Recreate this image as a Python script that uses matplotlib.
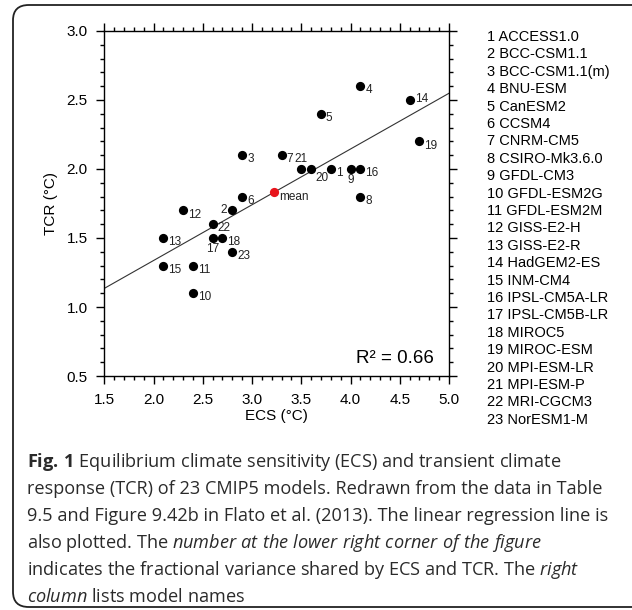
import numpy as np
import matplotlib
matplotlib.use("Agg")
import matplotlib.pyplot as plt
from matplotlib.patches import FancyBboxPatch
from matplotlib.ticker import MultipleLocator

plt.rcParams['font.family'] = ['Liberation Sans', 'DejaVu Sans']
plt.rcParams['mathtext.fontset'] = 'custom'
plt.rcParams['mathtext.rm'] = 'Open Sans'
plt.rcParams['mathtext.it'] = 'Open Sans:italic'
plt.rcParams['mathtext.bf'] = 'Open Sans:bold'

# CMIP5 models, ECS and TCR (degC)
models = ['ACCESS1.0', 'BCC-CSM1.1', 'BCC-CSM1.1(m)', 'BNU-ESM', 'CanESM2', 'CCSM4',
          'CNRM-CM5', 'CSIRO-Mk3.6.0', 'GFDL-CM3', 'GFDL-ESM2G', 'GFDL-ESM2M',
          'GISS-E2-H', 'GISS-E2-R', 'HadGEM2-ES', 'INM-CM4', 'IPSL-CM5A-LR',
          'IPSL-CM5B-LR', 'MIROC5', 'MIROC-ESM', 'MPI-ESM-LR', 'MPI-ESM-P',
          'MRI-CGCM3', 'NorESM1-M']
ecs = [3.8, 2.8, 2.9, 4.1, 3.7, 2.9, 3.3, 4.1, 4.0, 2.4, 2.4, 2.3, 2.1, 4.6,
       2.1, 4.1, 2.6, 2.7, 4.7, 3.6, 3.5, 2.6, 2.8]
tcr = [2.0, 1.7, 2.1, 2.6, 2.4, 1.8, 2.1, 1.8, 2.0, 1.1, 1.3, 1.7, 1.5, 2.5,
       1.3, 2.0, 1.5, 1.5, 2.2, 2.0, 2.0, 1.6, 1.4]
r2_text = 'R² = 0.66'

x = np.array(ecs)
y = np.array(tcr)

fig = plt.figure(figsize=(6.32, 6.10), dpi=100)
ax = fig.add_axes([0.165, 0.3836, 0.5455, 0.5656])

# regression line
slope, icpt = np.polyfit(x, y, 1)
xl = np.array([1.5, 5.0])
ax.plot(xl, slope * xl + icpt, color='#333333', lw=0.8, zorder=1)

ax.scatter(x, y, s=44, color='black', zorder=3, linewidths=0)
ax.scatter([x.mean()], [y.mean()], s=44, color='#e8141c', zorder=3, linewidths=0)

# label placement (offsets in points)
special = {
    2: ((-3.6, 0), 'right', 'center'),
    9: ((0, -3.5), 'center', 'top'),
    14: ((3.6, 0.5), 'left', 'center'),
    17: ((0, -3.5), 'center', 'top'),
    20: ((3.0, -2.5), 'left', 'top'),
    21: ((0, 3.0), 'center', 'bottom'),
}
for i in range(len(models)):
    n = i + 1
    off, ha, va = special.get(n, ((3.6, -3.0), 'left', 'center'))
    ax.annotate(str(n), (x[i], y[i]), xytext=off, textcoords='offset points',
                ha=ha, va=va, fontsize=8.5, color='#222222')
ax.annotate('mean', (x.mean(), y.mean()), xytext=(3.6, -3.5), textcoords='offset points',
            ha='left', va='center', fontsize=8.5, color='#222222')

ax.text(0.955, 0.05, r2_text, transform=ax.transAxes, ha='right', va='center',
        fontsize=13.5)

ax.set_xlim(1.5, 5.0)
ax.set_ylim(0.5, 3.0)
ax.xaxis.set_major_locator(MultipleLocator(0.5))
ax.yaxis.set_major_locator(MultipleLocator(0.5))
ax.xaxis.set_minor_locator(MultipleLocator(0.1))
ax.yaxis.set_minor_locator(MultipleLocator(0.1))
ax.xaxis.set_major_formatter(plt.FormatStrFormatter('%.1f'))
ax.yaxis.set_major_formatter(plt.FormatStrFormatter('%.1f'))
ax.tick_params(which='both', direction='out', top=True, right=True, width=1.0)
ax.tick_params(which='major', length=6, pad=6, labelsize=11)
ax.tick_params(which='minor', length=3)
for sp in ax.spines.values():
    sp.set_linewidth(1.0)

ax.set_xlabel('ECS (°C)', fontsize=11, labelpad=2)
ax.set_ylabel('TCR (°C)', fontsize=11, labelpad=6)

# model list on the right
for i, name in enumerate(models):
    fig.text(487 / 632, 1 - (37 + i * 17.4) / 610, f'{i + 1} {name}',
             fontsize=10.5, ha='left', va='center')

# caption
caption = [
    r'$\mathbf{Fig.\,1}$ Equilibrium climate sensitivity (ECS) and transient climate',
    'response (TCR) of 23 CMIP5 models. Redrawn from the data in Table',
    '9.5 and Figure 9.42b in Flato et al. (2013). The linear regression line is',
    r'also plotted. The $\mathit{number\ at\ the\ lower\ right\ corner\ of\ the\ figure}$',
    r'indicates the fractional variance shared by ECS and TCR. The $\mathit{right}$',
    r'$\mathit{column}$ lists model names',
]
for i, line in enumerate(caption):
    fig.text(27 / 632, 1 - (462 + i * 27) / 610, line, fontsize=13.1,
             family='Open Sans', ha='left', va='center', color='#2a2a2a')

box = FancyBboxPatch((13 / 632, 3 / 610), 700 / 632, 602 / 610,
                     boxstyle='round,pad=0,rounding_size=0.025',
                     transform=fig.transFigure, fill=False, lw=1.3,
                     edgecolor='#222222')
fig.patches.append(box)

fig.savefig('out.png', dpi=100)
